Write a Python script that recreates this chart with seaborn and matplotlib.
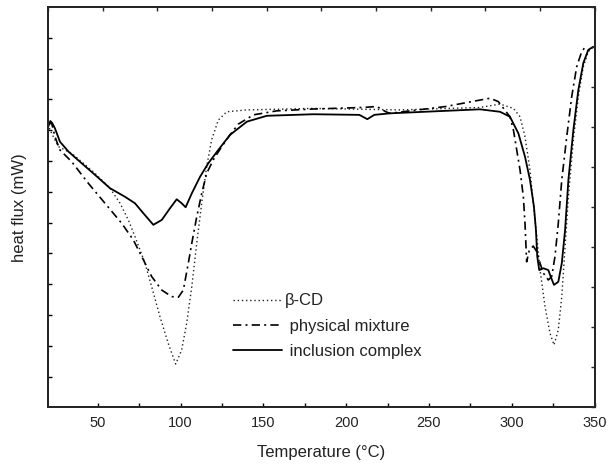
import numpy as np
import matplotlib
matplotlib.use("Agg")
import matplotlib.pyplot as plt
import seaborn as sns

# DSC curves (temperature in °C, heat flux in arbitrary units)
cd_temp = [20.0, 21.2, 26.2, 34.3, 41.3, 48.4, 57.4, 63.5, 68.5, 72.5, 78.6, 82.6,
           87.6, 92.6, 97.1, 100.7, 103.7, 106.8, 109.8, 112.8, 115.8, 118.8,
           122.8, 127.9, 140.0, 180.2, 232.5, 280.8, 292.9, 301.0, 305.0, 308.0,
           311.0, 313.0, 315.1, 317.1, 320.1, 323.1, 325.5, 328.1, 330.2, 332.2,
           334.2, 337.2, 340.2, 343.2, 346.2, 349.2]
cd_flux = [9.20, 9.01, 8.47, 8.25, 7.93, 7.60, 7.12, 6.63, 6.09, 5.55, 4.68, 3.92,
           2.95, 2.08, 1.41, 1.87, 2.73, 3.92, 5.33, 6.63, 7.82, 8.69,
           9.33, 9.60, 9.66, 9.71, 9.66, 9.74, 9.85, 9.71, 9.44, 8.79,
           7.71, 6.63, 5.55, 4.46, 3.27, 2.41, 2.03, 2.52, 3.60, 5.22,
           6.84, 8.69, 10.09, 11.06, 11.55, 11.71]

mix_temp = [20.0, 22.2, 24.2, 27.2, 34.3, 44.3, 54.4, 64.5, 71.5, 76.6, 82.6, 88.7,
            94.7, 98.7, 101.7, 104.7, 106.8, 109.8, 112.8, 115.8, 119.8, 124.9,
            129.9, 134.9, 144.0, 158.1, 180.2, 210.0, 218.5, 224.0, 226.5, 260.0,
            280.8, 286.9, 291.9, 298.9, 301.0, 303.0, 305.0, 307.0, 308.0, 308.6,
            309.0, 310.6, 313.0, 315.1, 317.1, 319.1, 322.1, 324.1, 326.1, 328.1,
            330.2, 333.2, 336.2, 339.2, 342.2, 345.3]
mix_flux = [9.20, 9.23, 8.79, 8.36, 7.98, 7.28, 6.63, 5.98, 5.44, 4.90, 4.25, 3.81,
            3.60, 3.58, 3.81, 4.68, 5.33, 6.19, 6.95, 7.60, 8.04, 8.47,
            8.85, 9.20, 9.50, 9.63, 9.69, 9.74, 9.77, 9.60, 9.55, 9.77,
            9.98, 10.04, 9.93, 9.44, 9.01, 8.36, 7.71, 6.84, 5.98, 5.22,
            4.73, 5.11, 5.24, 5.06, 4.68, 4.36, 4.14, 4.25, 4.90, 5.98,
            7.39, 8.79, 10.09, 11.06, 11.55, 11.77]

inc_temp = [20.0, 21.4, 22.6, 24.2, 27.2, 32.3, 40.3, 48.4, 57.4, 66.5, 72.5, 77.5,
            83.6, 88.7, 93.7, 97.7, 100.7, 103.1, 106.8, 111.8, 116.8, 122.8,
            129.9, 140.1, 152.1, 180.2, 208.0, 212.8, 217.0, 226.5, 280.8, 292.9,
            298.9, 304.0, 308.0, 311.0, 313.4, 314.6, 315.4, 316.6, 319.1, 322.1,
            323.5, 325.5, 328.1, 330.2, 332.2, 334.2, 337.2, 340.2, 343.2, 346.2,
            349.2]
inc_flux = [9.10, 9.30, 9.23, 9.06, 8.63, 8.31, 7.93, 7.55, 7.12, 6.84, 6.63, 6.31,
            5.93, 6.09, 6.47, 6.76, 6.63, 6.50, 6.95, 7.49, 7.93, 8.36,
            8.85, 9.28, 9.47, 9.52, 9.50, 9.36, 9.50, 9.55, 9.68, 9.60,
            9.44, 8.90, 8.14, 7.39, 6.52, 5.76, 4.90, 4.46, 4.52, 4.46,
            4.25, 3.98, 4.08, 4.68, 5.76, 7.39, 9.01, 10.31, 11.18, 11.61,
            11.71]

series_names = ["β-CD", "physical mixture", "inclusion complex"]

sns.set_style("ticks")
plt.rcParams["font.family"] = ["Liberation Sans", "DejaVu Sans"]
plt.rcParams["axes.linewidth"] = 1.3

fig = plt.figure(figsize=(6.1, 4.7), dpi=100)
ax = fig.add_axes([0.0787, 0.133, 0.896, 0.852])

sns.lineplot(x=cd_temp, y=cd_flux, ax=ax, color="#222222", lw=1.0, sort=False,
             linestyle=(0, (1, 2)), label=series_names[0])
sns.lineplot(x=mix_temp, y=mix_flux, ax=ax, color="black", lw=1.2, sort=False,
             linestyle=(0, (5, 2.5, 1.2, 2.5)), label=" " + series_names[1])
sns.lineplot(x=inc_temp, y=inc_flux, ax=ax, color="black", lw=1.3, sort=False,
             linestyle="-", label=" " + series_names[2])

ax.set_xlim(20, 350)
ax.set_ylim(0, 13)
ax.set_xticks(np.arange(50, 351, 50))
ax.set_xticks(np.arange(75, 350, 50), minor=True)
ax.set_yticks(np.arange(1, 13))
ax.set_yticklabels([])
ax.tick_params(axis="both", which="both", direction="in", length=3, width=1.0,
               labelsize=10.5, colors="black", pad=6)
ax.tick_params(axis="x", labelcolor="#222222")

# top and right frames carry their own ticks
ax_top = ax.twiny()
ax_top.set_xlim(20, 350)
ax_top.set_xticks(np.linspace(20, 350, 11))
ax_top.set_xticklabels([])
ax_top.tick_params(direction="in", length=3, width=1.0)
ax_right = ax.twinx()
ax_right.set_ylim(0, 13)
ax_right.set_yticks(np.linspace(0, 13, 11))
ax_right.set_yticklabels([])
ax_right.tick_params(direction="in", length=3, width=1.0)

ax.set_xlabel("Temperature (°C)", fontsize=12, color="#222222", labelpad=11)
ax.set_ylabel("heat flux (mW)", fontsize=12, color="#222222", labelpad=9)

leg = ax.legend(loc="center left", bbox_to_anchor=(0.3385, 0.203), frameon=False,
                fontsize=12, handlelength=2.95, handletextpad=0.15,
                labelspacing=0.62, borderpad=0, borderaxespad=0)
for t in leg.get_texts():
    t.set_color("#222222")

fig.savefig("out.png", dpi=100)
